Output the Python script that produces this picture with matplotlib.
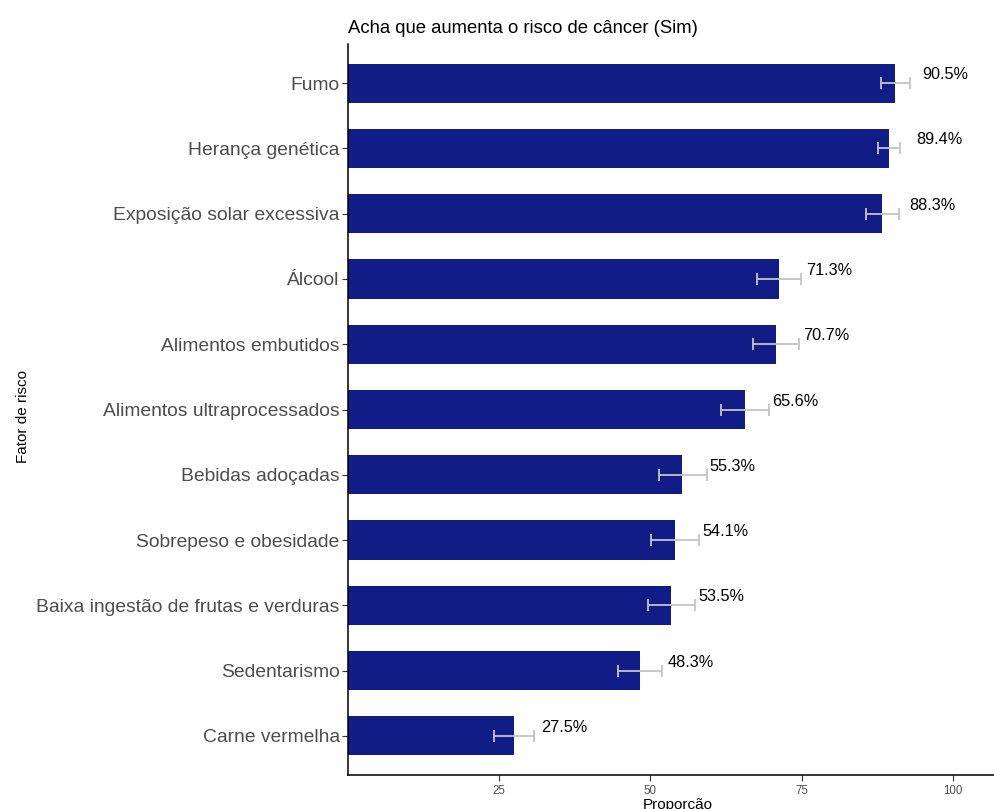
import matplotlib.pyplot as plt
import numpy as np

# dados (ordem de baixo para cima)
fatores = ['Carne vermelha', 'Sedentarismo', 'Baixa ingestão de frutas e verduras',
           'Sobrepeso e obesidade', 'Bebidas adoçadas', 'Alimentos ultraprocessados',
           'Alimentos embutidos', 'Álcool', 'Exposição solar excessiva',
           'Herança genética', 'Fumo']
proporcao = [27.5, 48.3, 53.5, 54.1, 55.3, 65.6, 70.7, 71.3, 88.3, 89.4, 90.5]
ic_inf = [24.1, 44.7, 49.6, 50.1, 51.5, 61.7, 66.9, 67.7, 85.6, 87.6, 88.2]
ic_sup = [30.7, 52.0, 57.4, 58.0, 59.3, 69.7, 74.6, 74.9, 91.1, 91.3, 92.9]
rotulos = ['27.5%', '48.3%', '53.5%', '54.1%', '55.3%', '65.6%',
           '70.7%', '71.3%', '88.3%', '89.4%', '90.5%']

plt.rcParams['font.family'] = ['Liberation Sans', 'DejaVu Sans']

fig = plt.figure(figsize=(9.95, 8.09), dpi=100)
ax = fig.add_axes([348 / 995, 1 - 775 / 809, 1 - 348 / 995, 731 / 809])

y = np.arange(1, len(fatores) + 1)
ax.barh(y, proporcao, height=0.6, color='#121C86', zorder=2)

ax.errorbar(proporcao, y,
            xerr=[np.array(proporcao) - np.array(ic_inf), np.array(ic_sup) - np.array(proporcao)],
            fmt='none', ecolor='#C4C4C4', elinewidth=1.3, capsize=4.3, capthick=1.3, zorder=3)

for yi, v, r in zip(y, proporcao, rotulos):
    ax.text(v + 4.5, yi + 0.13, r, ha='left', va='center', fontsize=11.7, color='black')

ax.set_xlim(0, 107)
ax.set_ylim(0.4, 11.6)
ax.set_xticks([25, 50, 75, 100])
ax.set_yticks(y)
ax.set_yticklabels(fatores)

ax.tick_params(axis='y', labelsize=13.9, labelcolor='#4D4D4D', length=4, color='#333333', pad=2)
ax.tick_params(axis='x', labelsize=8.3, labelcolor='#4D4D4D', length=4, color='#333333', pad=3)

for s in ['top', 'right']:
    ax.spines[s].set_visible(False)
for s in ['left', 'bottom']:
    ax.spines[s].set_linewidth(1.1)
    ax.spines[s].set_color('black')

ax.set_xlabel('Proporção', fontsize=11)
ax.xaxis.set_label_coords(0.51, -0.031)
ax.set_ylabel('Fator de risco', fontsize=11)
ax.yaxis.set_label_coords(-0.492, 0.49)

ax.set_title('Acha que aumenta o risco de câncer (Sim)', loc='left', fontsize=13.3, pad=8)

fig.savefig('out.png', dpi=100)
